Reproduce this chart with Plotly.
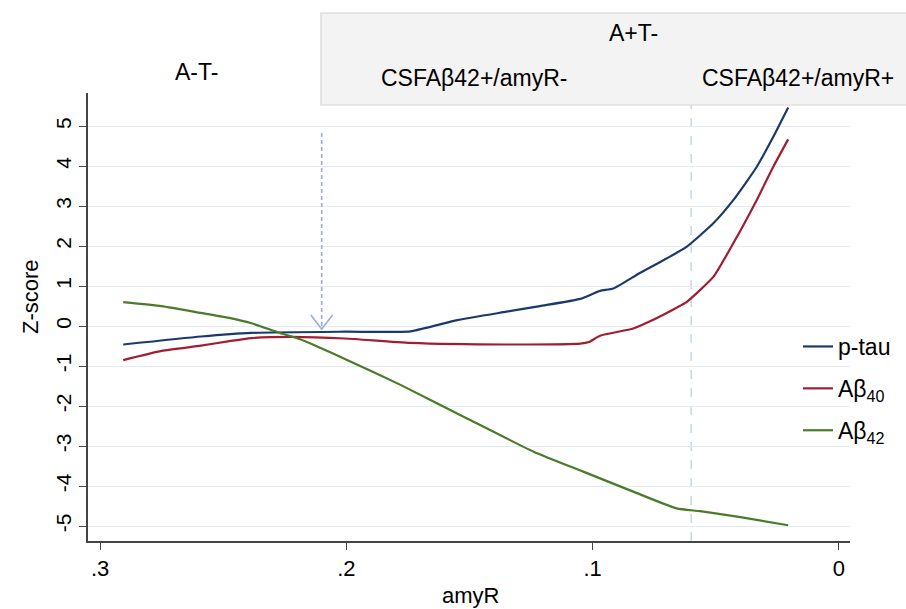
import plotly.graph_objects as go

# ---- data ----
ptau_x = [0.2906, 0.259, 0.2385, 0.2006, 0.174, 0.155, 0.135, 0.1214, 0.105, 0.097,
          0.0916, 0.0808, 0.070, 0.0619, 0.051, 0.0429, 0.0334, 0.0267, 0.0206]
ptau_y = [-0.46, -0.26, -0.17, -0.14, -0.13, 0.15, 0.36, 0.50, 0.68, 0.88,
          0.94, 1.33, 1.69, 1.98, 2.57, 3.15, 3.98, 4.73, 5.47]

ab40_x = [0.2906, 0.275, 0.259, 0.248, 0.2385, 0.222, 0.2006, 0.174, 0.135, 0.105,
          0.1015, 0.097, 0.0835, 0.0767, 0.0659, 0.0619, 0.051, 0.0429, 0.0334, 0.0267, 0.0206]
ab40_y = [-0.85, -0.62, -0.49, -0.38, -0.30, -0.27, -0.31, -0.42, -0.46, -0.44,
          -0.40, -0.24, -0.06, 0.12, 0.46, 0.60, 1.23, 2.07, 3.15, 3.98, 4.67]

ab42_x = [0.2906, 0.275, 0.259, 0.248, 0.2385, 0.2276, 0.2188, 0.2114, 0.2006, 0.178,
          0.151, 0.124, 0.1038, 0.0835, 0.0659, 0.0564, 0.040, 0.0206]
ab42_y = [0.60, 0.50, 0.33, 0.21, 0.07, -0.16, -0.33, -0.52, -0.82, -1.47,
          -2.31, -3.14, -3.64, -4.14, -4.56, -4.63, -4.78, -4.98]

series_names = ["p-tau", "Aβ<sub>40</sub>", "Aβ<sub>42</sub>"]
series_colors = ["#1b3a6c", "#a11d30", "#4a7a2b"]

x_tickvals = [0.3, 0.2, 0.1, 0.0]
x_ticktext = [".3", ".2", ".1", "0"]
y_tickvals = [-5, -4, -3, -2, -1, 0, 1, 2, 3, 4, 5]
y_ticktext = ["-5", "-4", "-3", "-2", "-1", "0", "1", "2", "3", "4", "5"]

cutoff_x = 0.06          # amyR+ threshold (dashed vertical line)
arrow_x = 0.21           # arrow position
arrow_top = 4.83
arrow_tip = -0.08

header_top = "A+T-"
header_left = "A-T-"
header_mid = "CSFAβ42+/amyR-"
header_right = "CSFAβ42+/amyR+"

FONT = "Liberation Sans, Arial, Helvetica, sans-serif"

fig = go.Figure()
for xs, ys, name, col in zip([ptau_x, ab40_x, ab42_x], [ptau_y, ab40_y, ab42_y],
                             series_names, series_colors):
    fig.add_trace(go.Scatter(x=xs, y=ys, mode="lines", name=name, legendgroup=name,
                             line=dict(color=col, width=2.2, shape="spline", smoothing=0.5)))

L, R, T, B = 88, 56, 93, 68
W, H = 906, 609
pw, ph = W - L - R, H - T - B

def px(xpix):
    return (xpix - L) / pw

def py(ypix):
    return (H - B - ypix) / ph

fig.update_layout(
    width=W, height=H,
    margin=dict(l=L, r=R, t=T, b=B, autoexpand=False),
    paper_bgcolor="white", plot_bgcolor="white",
    font=dict(family=FONT, color="black"),
    showlegend=True,
    legend=dict(x=px(798), y=py(325), xanchor="left", yanchor="top",
                font=dict(size=23, family=FONT, color="black"),
                bgcolor="rgba(0,0,0,0)", traceorder="grouped", tracegroupgap=9),
    xaxis=dict(range=[0.3049, -0.0045], tickvals=x_tickvals, ticktext=x_ticktext,
               ticks="outside", ticklen=7, tickcolor="#444", tickwidth=1.3,
               showline=True, linecolor="#444", linewidth=1.5,
               showgrid=False, zeroline=False,
               tickfont=dict(size=22, family=FONT, color="black")),
    yaxis=dict(range=[-5.375, 5.83], tickvals=y_tickvals, ticktext=y_ticktext, tickangle=-90,
               ticks="outside", ticklen=7, tickcolor="#444", tickwidth=1.3,
               showline=True, linecolor="#444", linewidth=1.5,
               showgrid=True, gridcolor="#e4ecf2", gridwidth=1.3, zeroline=False,
               tickfont=dict(size=21, family=FONT, color="black")),
)

# vertical cutoff line
fig.add_shape(type="line", xref="x", yref="paper", x0=cutoff_x, x1=cutoff_x, y0=0, y1=1,
              line=dict(color="#bcd3e2", width=1.3, dash="dash"), layer="between")

# arrow
fig.add_shape(type="line", xref="x", yref="y", x0=arrow_x, x1=arrow_x, y0=arrow_top, y1=arrow_tip + 0.05,
              line=dict(color="#97abe0", width=1.6, dash="4px,3px"))
hw, hh = 0.0044, 0.36
fig.add_shape(type="path", xref="x", yref="y",
              path=f"M {arrow_x + hw},{arrow_tip + hh} L {arrow_x},{arrow_tip} L {arrow_x - hw},{arrow_tip + hh}",
              line=dict(color="#97abe0", width=1.6))

# header box
fig.add_shape(type="rect", xref="paper", yref="paper", x0=px(321), x1=px(930), y0=py(105), y1=py(13),
              fillcolor="#f3f3f3", line=dict(color="#d6d6d6", width=1.2), layer="above")

def ann(text, xp, yp, size=23, angle=0):
    fig.add_annotation(text=text, xref="paper", yref="paper", x=px(xp), y=py(yp),
                       xanchor="center", yanchor="middle", showarrow=False, textangle=angle,
                       font=dict(size=size, family=FONT, color="black"))

ann(header_top, 633, 33)
ann(header_mid, 474, 78)
ann(header_right, 798, 78)
ann(header_left, 196, 72)
ann("Z-score", 30, 297, size=22, angle=-90)
ann("amyR", 470, 595, size=22)

fig.write_html("out.html", config={"displayModeBar": False},
               post_script="document.body.style.margin='0px';")
